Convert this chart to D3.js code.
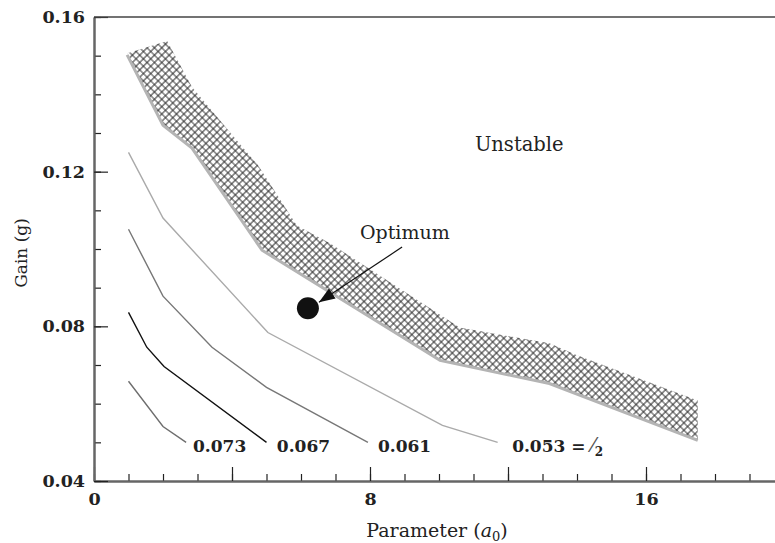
<!DOCTYPE html>
<html>
<head>
<meta charset="utf-8">
<script src="https://cdn.jsdelivr.net/npm/d3@7"></script>
<style>
  body { margin: 0; background: #fff; }
  text { font-family: "DejaVu Serif", serif; fill: #222; }
</style>
</head>
<body>
<svg id="chart" width="775" height="543"></svg>
<script>
// ---------- data ---------- //

// contour lines (x = parameter a0, y = gain g)
var c073X = [1, 2, 2.67];
var c073Y = [0.0658, 0.0541, 0.050];
var c067X = [1, 1.53, 2.03, 5.0];
var c067Y = [0.0836, 0.0746, 0.0696, 0.050];
var c061X = [1, 2, 3.42, 5.0, 7.94];
var c061Y = [0.1051, 0.0878, 0.0746, 0.0642, 0.0500];
var c053X = [1, 2, 5.04, 10.1, 11.7];
var c053Y = [0.125, 0.108, 0.0784, 0.0544, 0.050];

// stability band (hatched)
var bandUpperX = [0.99, 2.12, 2.84, 3.94, 4.75, 5.88, 6.84, 8.49, 10.6, 13.2, 14.0, 17.5];
var bandUpperY = [0.1507, 0.1538, 0.1419, 0.1302, 0.1217, 0.1061, 0.1015, 0.0919, 0.0797, 0.0756, 0.0725, 0.0608];
var bandLowerX = [0.96, 2.0, 2.84, 4.87, 10.03, 13.2, 17.5];
var bandLowerY = [0.1502, 0.132, 0.1261, 0.0997, 0.0712, 0.0652, 0.0505];

// optimum point
var optimum = [6.2, 0.0847];

// contour labels
var labelText = ["0.073", "0.067", "0.061", "0.053 = "];
var labelX = [2.87, 5.3, 8.23, 12.12];
var labelY = [0.0474, 0.0474, 0.0474, 0.0474];

// ticks
var xMinorTicks = d3.range(0, 21, 1);
var xMajorTicks = [0, 4, 8, 12, 16, 20];
var xTickLabels = { 0: "0", 8: "8", 16: "16" };
var yMinorTicks = d3.range(4, 17, 1).map(function(d){ return d / 100; });
var yMajorTicks = [0.04, 0.08, 0.12, 0.16];

// ---------- canvas ---------- //

var svg = d3.select("#chart");

var x = d3.scaleLinear().domain([0, 20]).range([94, 784]);
var y = d3.scaleLinear().domain([0.04, 0.16]).range([481, 17]);

function pts(xs, ys) {
	return xs.map(function(d, i){ return [d, ys[i]]; });
}

var line = d3.line()
		.x(function(d){ return x(d[0]); })
		.y(function(d){ return y(d[1]); });

// hatch pattern
var defs = svg.append("defs");
var pat = defs.append("pattern")
		.attr("id", "hatch")
		.attr("width", 5.2)
		.attr("height", 5.2)
		.attr("patternUnits", "userSpaceOnUse")
		.attr("patternTransform", "rotate(45)");
pat.append("rect").attr("width", 5.2).attr("height", 5.2).attr("fill", "#fff");
pat.append("path")
		.attr("d", "M0,2.6H5.2M2.6,0V5.2")
		.attr("stroke", "#262626")
		.attr("stroke-width", 0.95);

defs.append("marker")
		.attr("id", "arrow")
		.attr("markerUnits", "userSpaceOnUse")
		.attr("viewBox", "0 0 16 12")
		.attr("refX", 16)
		.attr("refY", 6)
		.attr("markerWidth", 16)
		.attr("markerHeight", 12)
		.attr("orient", "auto")
	.append("path")
		.attr("d", "M0,0L16,6L0,12Z")
		.attr("fill", "#111");

// ---------- axes ---------- //

var xMinor = d3.axisBottom(x).tickValues(xMinorTicks).tickSize(-7).tickSizeOuter(0).tickFormat("");
var xMajor = d3.axisBottom(x).tickValues(xMajorTicks).tickSize(-14).tickSizeOuter(0).tickPadding(12)
		.tickFormat(function(d){ return xTickLabels[d] || ""; });
var yMinor = d3.axisLeft(y).tickValues(yMinorTicks).tickSize(-7).tickSizeOuter(0).tickFormat("");
var yMajor = d3.axisLeft(y).tickValues(yMajorTicks).tickSize(-14).tickSizeOuter(0).tickPadding(9)
		.tickFormat(d3.format(".2f"));

[xMinor, xMajor].forEach(function(ax){
	svg.append("g").attr("class", "axis").attr("transform", "translate(0,481)").call(ax);
});
[yMinor, yMajor].forEach(function(ax){
	svg.append("g").attr("class", "axis").attr("transform", "translate(94,0)").call(ax);
});

svg.selectAll(".axis .domain").attr("stroke", "#666").attr("stroke-width", 2);
svg.selectAll(".axis .tick line").attr("stroke", "#222").attr("stroke-width", 1.2);
svg.selectAll(".axis text")
		.attr("font-family", "DejaVu Serif")
		.attr("font-size", "17.5px")
		.attr("font-weight", "bold")
		.attr("fill", "#222");

// top frame line
svg.append("line")
		.attr("x1", x(0)).attr("x2", x(20))
		.attr("y1", y(0.16)).attr("y2", y(0.16))
		.attr("stroke", "#444")
		.attr("stroke-width", 1.6);

// ---------- band ---------- //

var bandPoly = pts(bandUpperX, bandUpperY).concat(pts(bandLowerX, bandLowerY).reverse());
svg.append("path")
		.attr("d", line(bandPoly) + "Z")
		.attr("fill", "url(#hatch)");

svg.append("path")
		.attr("d", line(pts(bandLowerX, bandLowerY)))
		.attr("fill", "none")
		.attr("stroke", "#b4b4b4")
		.attr("stroke-width", 3);

// ---------- contours ---------- //

var contours = [
	{ xs: c073X, ys: c073Y, color: "#6e6e6e" },
	{ xs: c067X, ys: c067Y, color: "#111" },
	{ xs: c061X, ys: c061Y, color: "#777" },
	{ xs: c053X, ys: c053Y, color: "#aaa" }
];

svg.selectAll(".contour")
		.data(contours)
		.enter().append("path")
		.attr("class", "contour")
		.attr("d", function(d){ return line(pts(d.xs, d.ys)); })
		.attr("fill", "none")
		.attr("stroke", function(d){ return d.color; })
		.attr("stroke-width", 1.4);

var labels = svg.selectAll(".clabel")
		.data(labelText)
		.enter().append("text")
		.attr("class", "clabel")
		.attr("x", function(d, i){ return x(labelX[i]); })
		.attr("y", function(d, i){ return y(labelY[i]); })
		.attr("font-size", "17px")
		.attr("font-weight", "bold")
		.attr("xml:space", "preserve")
		.text(function(d){ return d; });

// the "⁄2" on the last label
var last = d3.select(labels.nodes()[3]);
last.append("tspan").attr("font-weight", "normal").attr("font-size", "20px").attr("fill", "#555").text("\u2044");
last.append("tspan").attr("font-size", "12px").attr("dy", 4).text("2");

// ---------- optimum ---------- //

svg.append("circle")
		.attr("cx", x(optimum[0]))
		.attr("cy", y(optimum[1]))
		.attr("r", 11)
		.attr("fill", "#111");

svg.append("line")
		.attr("x1", x(8.93)).attr("y1", y(0.1005))
		.attr("x2", x(6.52)).attr("y2", y(0.0862))
		.attr("stroke", "#111")
		.attr("stroke-width", 1.2)
		.attr("marker-end", "url(#arrow)");

svg.append("text")
		.attr("x", x(7.71))
		.attr("y", y(0.1025))
		.attr("font-size", "19px")
		.text("Optimum");

svg.append("text")
		.attr("x", x(11.04))
		.attr("y", y(0.1253))
		.attr("font-size", "19.5px")
		.text("Unstable");

// ---------- axis titles ---------- //

var xt = svg.append("text")
		.attr("x", 437)
		.attr("y", 537)
		.attr("text-anchor", "middle")
		.attr("font-size", "19px");
xt.append("tspan").text("Parameter (");
xt.append("tspan").attr("font-style", "italic").text("a");
xt.append("tspan").attr("font-size", "13px").attr("dy", 4).text("0");
xt.append("tspan").attr("dy", -4).text(")");

svg.append("text")
		.attr("transform", "translate(27,253) rotate(-90)")
		.attr("text-anchor", "middle")
		.attr("font-size", "17px")
		.text("Gain (g)");
</script>
</body>
</html>
